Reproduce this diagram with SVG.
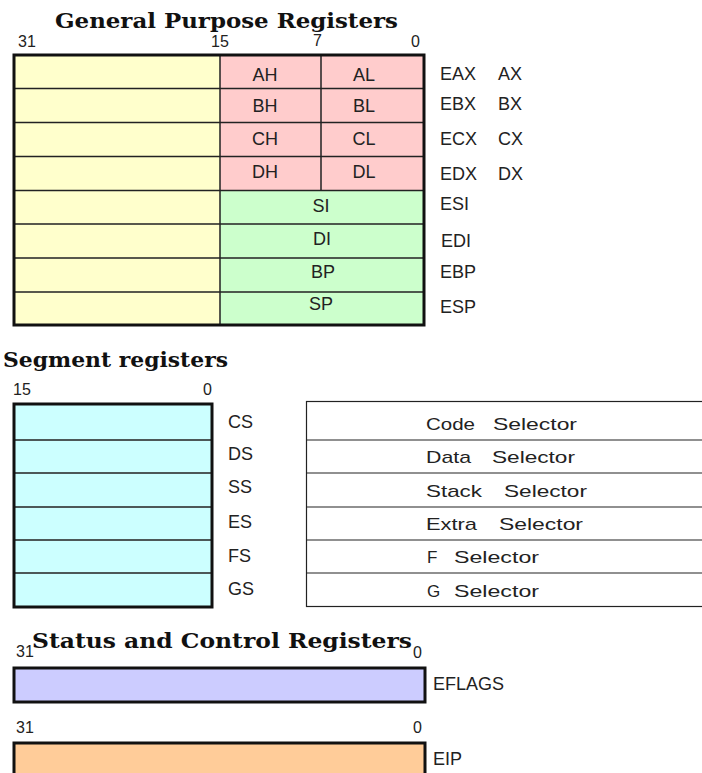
<svg xmlns="http://www.w3.org/2000/svg" width="702" height="773" viewBox="0 0 702 773">
<style>
.title{font-family:"DejaVu Serif","Liberation Serif",serif;font-weight:bold;font-size:20px;fill:#111}
.lbl{font-family:"Liberation Sans",Arial,sans-serif;font-size:18px;fill:#222}
.num{font-family:"Liberation Sans",Arial,sans-serif;font-size:16px;fill:#222}
.sel{font-family:"Liberation Sans",Arial,sans-serif;font-size:17px;fill:#222}
.mid{text-anchor:middle}
.frame{fill:none;stroke:#111;stroke-width:3}
.div{stroke:#222;stroke-width:1.5;fill:none}
.thin{stroke:#222;stroke-width:1.2;fill:none}
</style>
<rect width="702" height="773" fill="#fff"/>

<g id="gp-title">
<text class="title" x="55" y="28" textLength="343" lengthAdjust="spacingAndGlyphs">General Purpose Registers</text>
<text class="num" x="18" y="47">31</text>
<text class="num" x="211" y="47">15</text>
<text class="num" x="313" y="46">7</text>
<text class="num" x="411" y="47">0</text>
</g>

<g id="gp-registers">
<rect x="14" y="55" width="206" height="270" fill="#ffffcc"/>
<rect x="220" y="55" width="204" height="135.5" fill="#ffcccc"/>
<rect x="220" y="190.5" width="204" height="134.5" fill="#ccffcc"/>
<path class="div" d="M14 88.5H424M14 122.5H424M14 156.5H424M14 190.5H424M14 224H424M14 258H424M14 292H424M220 55V325M321 55V190.5"/>
<rect class="frame" x="14" y="55" width="410" height="270"/>
</g>

<g id="eax">
<text class="lbl mid" x="265" y="81">AH</text><text class="lbl mid" x="364" y="81">AL</text>
<text class="lbl" x="440" y="80">EAX</text><text class="lbl" x="498" y="80">AX</text>
</g>
<g id="ebx">
<text class="lbl mid" x="265" y="112">BH</text><text class="lbl mid" x="364" y="112">BL</text>
<text class="lbl" x="440" y="110">EBX</text><text class="lbl" x="498" y="110">BX</text>
</g>
<g id="ecx">
<text class="lbl mid" x="265" y="145">CH</text><text class="lbl mid" x="364" y="145">CL</text>
<text class="lbl" x="440" y="145">ECX</text><text class="lbl" x="498" y="145">CX</text>
</g>
<g id="edx">
<text class="lbl mid" x="265" y="178">DH</text><text class="lbl mid" x="364" y="178">DL</text>
<text class="lbl" x="440" y="180">EDX</text><text class="lbl" x="498" y="180">DX</text>
</g>
<g id="esi">
<text class="lbl mid" x="321" y="212">SI</text>
<text class="lbl" x="440" y="210">ESI</text>
</g>
<g id="edi">
<text class="lbl mid" x="322" y="245">DI</text>
<text class="lbl" x="441" y="247">EDI</text>
</g>
<g id="ebp">
<text class="lbl mid" x="323" y="278">BP</text>
<text class="lbl" x="440" y="278">EBP</text>
</g>
<g id="esp">
<text class="lbl mid" x="321" y="310">SP</text>
<text class="lbl" x="440" y="313">ESP</text>
</g>

<g id="seg-title">
<text class="title" x="3" y="367" textLength="225" lengthAdjust="spacingAndGlyphs">Segment registers</text>
<text class="num" x="13" y="395">15</text>
<text class="num" x="203" y="395">0</text>
</g>

<g id="seg-registers">
<rect x="14" y="404" width="198" height="203" fill="#ccffff"/>
<path class="div" d="M14 440H212M14 473H212M14 507H212M14 540H212M14 573H212"/>
<rect class="frame" x="14" y="404" width="198" height="203"/>
<text class="lbl" x="228" y="428">CS</text>
<text class="lbl" x="228" y="460">DS</text>
<text class="lbl" x="228" y="493">SS</text>
<text class="lbl" x="228" y="528">ES</text>
<text class="lbl" x="228" y="562">FS</text>
<text class="lbl" x="228" y="595">GS</text>
</g>

<g id="selectors">
<rect class="thin" x="306.5" y="401.5" width="420" height="205"/>
<path class="thin" d="M306.5 440H702M306.5 473H702M306.5 507H702M306.5 540H702M306.5 573H702"/>
<text class="sel" x="426" y="430" textLength="49" lengthAdjust="spacingAndGlyphs">Code</text>
<text class="sel" x="493" y="430" textLength="84" lengthAdjust="spacingAndGlyphs">Selector</text>
<text class="sel" x="426" y="463" textLength="45" lengthAdjust="spacingAndGlyphs">Data</text>
<text class="sel" x="492" y="463" textLength="83" lengthAdjust="spacingAndGlyphs">Selector</text>
<text class="sel" x="426" y="497" textLength="56" lengthAdjust="spacingAndGlyphs">Stack</text>
<text class="sel" x="504" y="497" textLength="83" lengthAdjust="spacingAndGlyphs">Selector</text>
<text class="sel" x="426" y="530" textLength="51" lengthAdjust="spacingAndGlyphs">Extra</text>
<text class="sel" x="499" y="530" textLength="84" lengthAdjust="spacingAndGlyphs">Selector</text>
<text class="sel" x="427" y="563">F</text>
<text class="sel" x="454" y="563" textLength="85" lengthAdjust="spacingAndGlyphs">Selector</text>
<text class="sel" x="427" y="597">G</text>
<text class="sel" x="454" y="597" textLength="85" lengthAdjust="spacingAndGlyphs">Selector</text>
</g>

<g id="status-title">
<text class="num" x="16" y="657">31</text>
<text class="title" x="32" y="648" textLength="380" lengthAdjust="spacingAndGlyphs">Status and Control Registers</text>
<text class="num" x="413" y="658">0</text>
</g>

<g id="eflags">
<rect x="14" y="668" width="411" height="34" fill="#ccccff" stroke="#111" stroke-width="3"/>
<text class="lbl" x="433" y="690">EFLAGS</text>
</g>

<g id="eip">
<text class="num" x="16" y="733">31</text>
<text class="num" x="413" y="733">0</text>
<rect x="14" y="743" width="411" height="40" fill="#ffcc99" stroke="#111" stroke-width="3"/>
<text class="lbl" x="433" y="765">EIP</text>
</g>
</svg>
